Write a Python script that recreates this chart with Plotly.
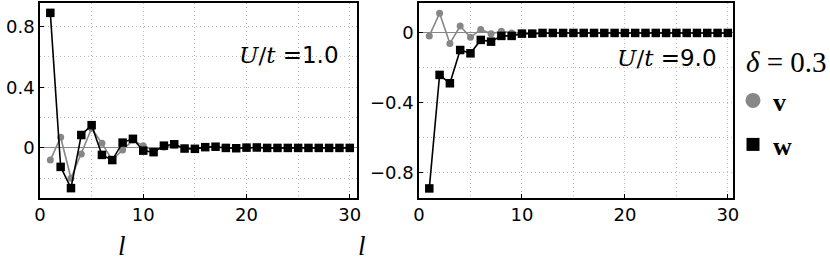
import plotly.graph_objects as go

W, H = 830, 263

l_vals = list(range(1, 31))

v_U1 = [-0.08, 0.07, -0.20, -0.04, 0.13, 0.03, -0.08, -0.013, 0.05, 0.015,
        -0.02, 0.005, 0.02, -0.005, -0.005, 0.005, 0.005, 0.0, 0.0, 0.0,
        0.0, 0.0, 0.0, 0.0, 0.0, 0.0, 0.0, 0.0, 0.0, 0.0]
w_U1 = [0.89, -0.125, -0.265, 0.085, 0.15, -0.046, -0.08, 0.035, 0.06, -0.018,
        -0.028, 0.015, 0.024, -0.004, -0.006, 0.005, 0.008, 0.0, -0.002, 0.002,
        0.003, 0.0, 0.0, 0.0, 0.0, 0.0, 0.0, 0.0, 0.0, 0.0]
v_U9 = [-0.017, 0.113, -0.06, 0.04, -0.025, 0.02, -0.005, 0.01, 0.0, 0.0,
        0.0, 0.0, 0.0, 0.0, 0.0, 0.0, 0.0, 0.0, 0.0, 0.0,
        0.0, 0.0, 0.0, 0.0, 0.0, 0.0, 0.0, 0.0, 0.0, 0.0]
w_U9 = [-0.893, -0.241, -0.289, -0.098, -0.117, -0.04, -0.05, -0.017, -0.017, -0.004,
        -0.004, 0.0, 0.0, 0.0, 0.0, 0.0, 0.0, 0.0, 0.0, 0.0,
        0.0, 0.0, 0.0, 0.0, 0.0, 0.0, 0.0, 0.0, 0.0, 0.0]

panel_labels = ["=1.0", "=9.0"]
x_ticks = [0, 10, 20, 30]
y_ticks_left = [0, 0.4, 0.8]
y_ticks_right = [-0.8, -0.4, 0]

GRAY = "#878787"
GRID = "#bdbdbd"
SANS = "DejaVu Sans"
SERIF = "Liberation Serif"
MATH = "DejaVu Serif"

fig = go.Figure()

def add_panel(xa, ya, v, w):
    fig.add_trace(go.Scatter(x=l_vals, y=v, mode="lines+markers", xaxis=xa, yaxis=ya,
                             line=dict(color=GRAY, width=1.6),
                             marker=dict(symbol="circle", size=7, color=GRAY),
                             showlegend=False))
    fig.add_trace(go.Scatter(x=l_vals, y=w, mode="lines+markers", xaxis=xa, yaxis=ya,
                             line=dict(color="black", width=1.6),
                             marker=dict(symbol="square", size=8.5, color="black"),
                             showlegend=False))

add_panel("x", "y", v_U1, w_U1)
add_panel("x2", "y2", v_U9, w_U9)

# legend-only entries
fig.add_trace(go.Scatter(x=[None], y=[None], mode="markers", name="<b>v</b>",
                         marker=dict(symbol="circle", size=15, color=GRAY),
                         legend="legend"))
fig.add_trace(go.Scatter(x=[None], y=[None], mode="markers", name="<b>w</b>",
                         marker=dict(symbol="square", size=13, color="black"),
                         legend="legend2"))

def px(xp):
    return xp / W

def py(yp):
    return 1 - yp / H

DOT = "1px,3px"
axis_common = dict(showline=True, mirror=True, linecolor="black", linewidth=1.5,
                   ticks="inside", ticklen=4, tickcolor="black", automargin=False,
                   tickfont=dict(family=SANS, size=18, color="black"),
                   showgrid=True, gridcolor=GRID, griddash=DOT, gridwidth=1)
minor_x = dict(dtick=5, tick0=0, showgrid=True, gridcolor=GRID, griddash=DOT, ticks="")
minor_y = dict(dtick=0.2, tick0=0, showgrid=True, gridcolor=GRID, griddash=DOT, ticks="")

fig.update_layout(
    width=W, height=H, margin=dict(l=0, r=0, t=0, b=0),
    plot_bgcolor="white", paper_bgcolor="white",
    xaxis=dict(domain=[px(40), px(357)], range=[0, 30.7], tickvals=x_ticks, minor=minor_x,
               zeroline=False, anchor="y", **axis_common),
    yaxis=dict(domain=[py(198), py(3)], range=[-0.33, 0.955], tickvals=y_ticks_left,
               ticktext=["0", "0.4", "0.8"], minor=minor_y,
               zeroline=True, zerolinecolor=GRAY, zerolinewidth=1.3, anchor="x", **axis_common),
    xaxis2=dict(domain=[px(419), px(733)], range=[0, 30.5], tickvals=x_ticks, minor=minor_x,
                zeroline=False, anchor="y2", **axis_common),
    yaxis2=dict(domain=[py(198), py(3)], range=[-0.948, 0.172], tickvals=y_ticks_right,
                ticktext=["\u22120.8", "\u22120.4", "0"], minor=minor_y,
                zeroline=True, zerolinecolor=GRAY, zerolinewidth=1.3, anchor="x2", **axis_common),
    legend=dict(x=px(733), y=py(77), xanchor="left", yanchor="top",
                bgcolor="rgba(0,0,0,0)", font=dict(family=SERIF, size=26, color="black"),
                itemsizing="trace"),
    legend2=dict(x=px(733), y=py(121), xanchor="left", yanchor="top",
                 bgcolor="rgba(0,0,0,0)", font=dict(family=SERIF, size=26, color="black"),
                 itemsizing="trace"),
)

def ut_text(val):
    return ("<span style='font-family:%s'><i>U</i>/<i>t</i></span> %s" % (MATH, val))

fig.add_annotation(x=px(341), y=py(55), xref="paper", yref="paper", xanchor="right", yanchor="middle",
                   text=ut_text(panel_labels[0]), showarrow=False,
                   font=dict(family=SANS, size=23, color="black"))
fig.add_annotation(x=px(719), y=py(58), xref="paper", yref="paper", xanchor="right", yanchor="middle",
                   text=ut_text(panel_labels[1]), showarrow=False,
                   font=dict(family=SANS, size=23, color="black"))
fig.add_annotation(x=px(744), y=py(62), xref="paper", yref="paper", xanchor="left", yanchor="middle",
                   text="<i>\u03b4</i> = 0.3", showarrow=False,
                   font=dict(family=SERIF, size=29, color="black"))
fig.add_annotation(x=px(122), y=py(246), xref="paper", yref="paper", xanchor="center", yanchor="middle",
                   text="<i>l</i>", showarrow=False, font=dict(family=SERIF, size=27, color="black"))
fig.add_annotation(x=px(362), y=py(246), xref="paper", yref="paper", xanchor="center", yanchor="middle",
                   text="<i>l</i>", showarrow=False, font=dict(family=SERIF, size=27, color="black"))

fig.write_html("out.html", config={"displayModeBar": False},
               post_script="document.body.style.margin='0';document.body.style.overflow='hidden';")
